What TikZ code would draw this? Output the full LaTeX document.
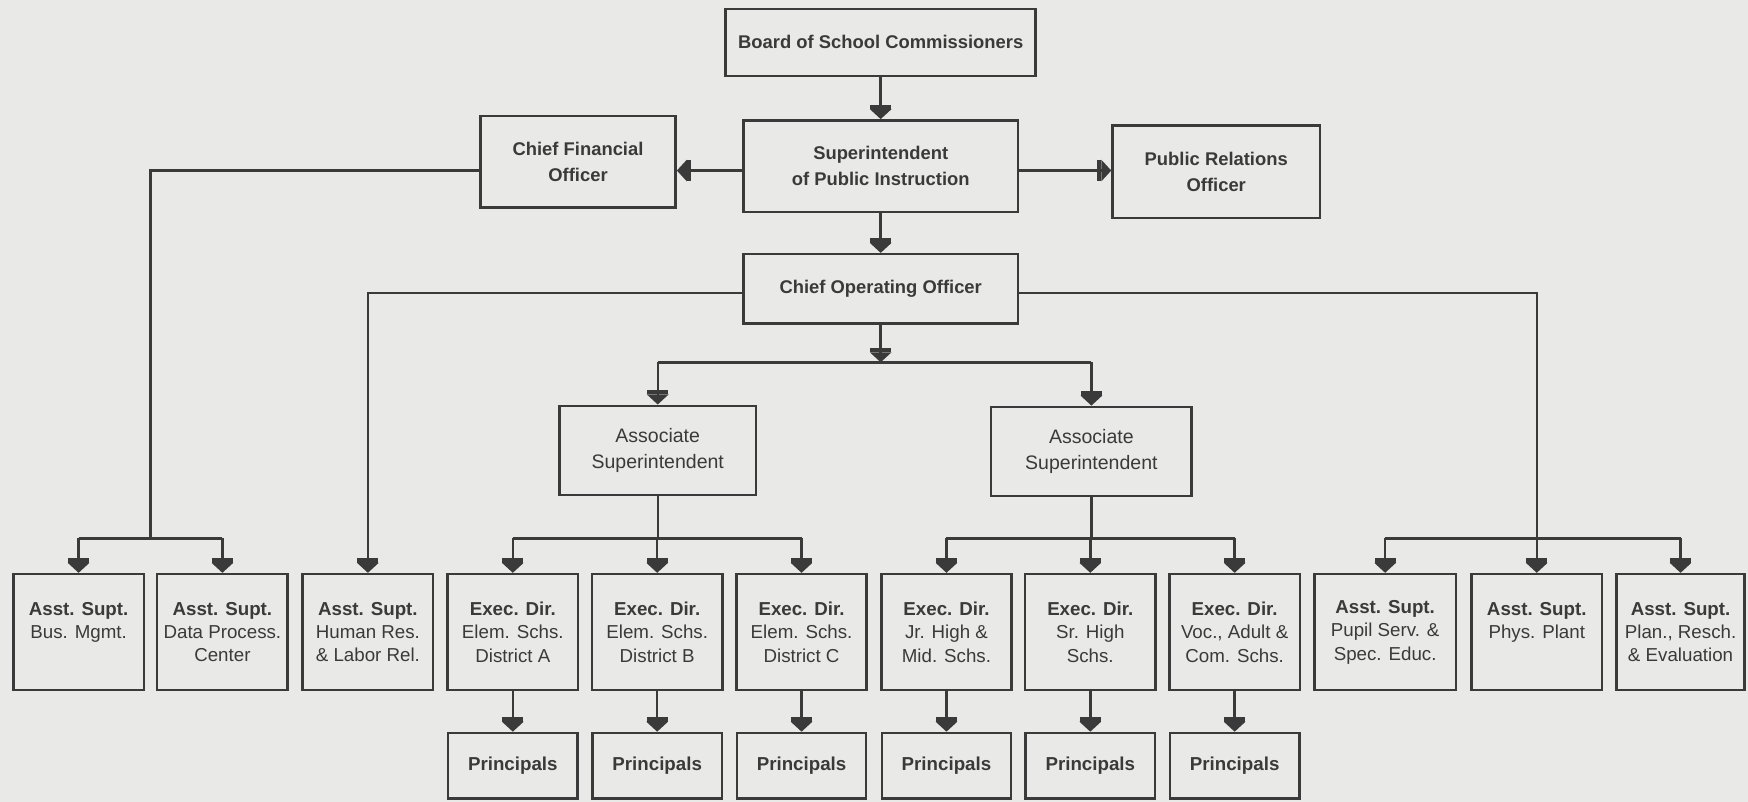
\documentclass[tikz,border=0pt]{standalone}
\usepackage{fontspec}
\setmainfont{Liberation Sans}
\usetikzlibrary{arrows.meta}
\definecolor{ink}{HTML}{3A3A3A}
\definecolor{paper}{HTML}{E9E9E7}
\begin{document}
\begin{tikzpicture}[x=1pt,y=-1pt,
  box/.style={draw=ink, line width=2.3pt, text=ink, inner sep=0pt, align=center,
    font=\fontsize{16.5}{21}\selectfont},
  topbox/.style={box, font=\fontsize{16.5}{23}\selectfont\bfseries},
  assoc/.style={box, font=\fontsize{17.5}{24}\selectfont},
  lowbox/.style={box, minimum width=117pt, minimum height=104pt, font=\fontsize{16.8}{21}\selectfont},
  prinbox/.style={box, minimum width=116pt, minimum height=59pt, font=\fontsize{16.8}{21}\selectfont\bfseries},
  conn/.style={draw=ink, line width=2.2pt},
  arr/.style={conn, -{Rectangle[length=4pt,width=19pt,sep=0pt]Triangle[length=9pt,width=19pt]}}
]
\fill[paper] (0,0) rectangle (1568,719);
\useasboundingbox (0,0) rectangle (1568,719);

% top levels
\node[topbox, minimum width=278pt, minimum height=60pt] (board) at (790,38) {Board of School Commissioners};
\node[topbox, minimum width=246pt, minimum height=82pt] (supt) at (790,149) {Superintendent\\of Public Instruction};
\node[topbox, minimum width=175pt, minimum height=82pt] (cfo) at (518.5,145) {Chief Financial\\Officer};
\node[topbox, minimum width=186pt, minimum height=83pt] (pro) at (1091,154) {Public Relations\\Officer};
\node[topbox, minimum width=246pt, minimum height=62pt] (coo) at (790,259) {Chief Operating Officer};
\node[assoc, minimum width=176pt, minimum height=80pt] (as1) at (590,404) {Associate\\Superintendent};
\node[assoc, minimum width=180pt, minimum height=80pt] (as2) at (979,405) {Associate\\Superintendent};

% bottom row
\node[lowbox] (b1) at (70.5,567) {\textbf{Asst. Supt.}\\Bus. Mgmt.\\\mbox{}};
\node[lowbox] (b2) at (199.5,567) {\textbf{Asst. Supt.}\\Data Process.\\Center};
\node[lowbox] (b3) at (330,567) {\textbf{Asst. Supt.}\\Human Res.\\\&~Labor Rel.};
\node[lowbox] (b4) at (460,567) {\textbf{Exec. Dir.}\\Elem. Schs.\\District A};
\node[lowbox] (b5) at (589.5,567) {\textbf{Exec. Dir.}\\Elem. Schs.\\District B};
\node[lowbox] (b6) at (719,567) {\textbf{Exec. Dir.}\\Elem. Schs.\\District C};
\node[lowbox] (b7) at (849,567) {\textbf{Exec. Dir.}\\Jr. High \&\\Mid. Schs.};
\node[lowbox] (b8) at (978,567) {\textbf{Exec. Dir.}\\Sr. High\\Schs.};
\node[lowbox] (b9) at (1107.5,567) {\textbf{Exec. Dir.}\\Voc., Adult \&\\Com. Schs.};
\node[lowbox, minimum width=127pt] (b10) at (1242.5,567) {\textbf{Asst. Supt.}\\Pupil Serv. \&\\Spec. Educ.};
\node[lowbox] (b11) at (1378.5,567) {\textbf{Asst. Supt.}\\Phys. Plant\\\mbox{}};
\node[lowbox, minimum width=115pt] (b12) at (1507.5,567) {\textbf{Asst. Supt.}\\Plan., Resch.\\\&~Evaluation};

% principals
\node[prinbox] (p4) at (460,687) {Principals};
\node[prinbox] (p5) at (589.5,687) {Principals};
\node[prinbox] (p6) at (719,687) {Principals};
\node[prinbox] (p7) at (849,687) {Principals};
\node[prinbox] (p8) at (978,687) {Principals};
\node[prinbox] (p9) at (1107.5,687) {Principals};

% helper coordinates
\coordinate (ya) at (0,153);
\coordinate (yb) at (0,263);
\coordinate (barA) at (0,325);
\coordinate (barB) at (0,483);
\coordinate (cfoL) at (135,0);

% connectors
\draw[arr] (board.south) -- (supt.north);
\draw[arr] (supt.south) -- (coo.north);
\draw[arr] (supt.west |- ya) -- (cfo.east |- ya);
\draw[arr] (supt.east |- ya) -- (pro.west |- ya);

\draw[arr] (coo.south) -- (coo.south |- barA);
\draw[conn] (as1.north |- barA) -- (as2.north |- barA);
\draw[arr] (as1.north |- barA) -- (as1.north);
\draw[arr] (as2.north |- barA) -- (as2.north);

% CFO branch
\draw[conn] (cfo.west |- ya) -- (cfoL |- ya) -- (cfoL |- barB);
\draw[conn] (b1.north |- barB) -- (b2.north |- barB);
\draw[arr] (b1.north |- barB) -- (b1.north);
\draw[arr] (b2.north |- barB) -- (b2.north);

% COO left branch
\draw[conn] (coo.west |- yb) -- (b3.north |- yb) -- (b3.north |- barB);
\draw[arr] (b3.north |- barB) -- (b3.north);

% COO right branch
\draw[conn] (coo.east |- yb) -- (b11.north |- yb) -- (b11.north |- barB);
\draw[arr] (b11.north |- barB) -- (b11.north);
\draw[conn] (b10.north |- barB) -- (b12.north |- barB);
\draw[arr] (b10.north |- barB) -- (b10.north);
\draw[arr] (b12.north |- barB) -- (b12.north);

% associate 1
\draw[conn] (as1.south) -- (as1.south |- barB);
\draw[conn] (b4.north |- barB) -- (b6.north |- barB);
\draw[arr] (b4.north |- barB) -- (b4.north);
\draw[arr] (b5.north |- barB) -- (b5.north);
\draw[arr] (b6.north |- barB) -- (b6.north);

% associate 2
\draw[conn] (as2.south) -- (as2.south |- barB);
\draw[conn] (b7.north |- barB) -- (b9.north |- barB);
\draw[arr] (b7.north |- barB) -- (b7.north);
\draw[arr] (b8.north |- barB) -- (b8.north);
\draw[arr] (b9.north |- barB) -- (b9.north);

% principals
\draw[arr] (b4.south) -- (p4.north);
\draw[arr] (b5.south) -- (p5.north);
\draw[arr] (b6.south) -- (p6.north);
\draw[arr] (b7.south) -- (p7.north);
\draw[arr] (b8.south) -- (p8.north);
\draw[arr] (b9.south) -- (p9.north);
\end{tikzpicture}
\end{document}
